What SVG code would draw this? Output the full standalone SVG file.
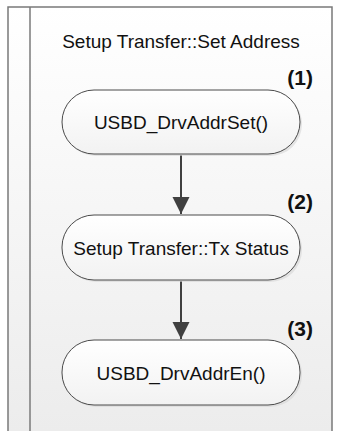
<svg xmlns="http://www.w3.org/2000/svg" width="345" height="431" viewBox="0 0 345 431">
<style>
.frame{stroke:#7a7a7a;stroke-width:1.5;fill:none}
.node rect{fill:url(#nodeGrad);stroke:#4a4a4a;stroke-width:1}
.node rect.shadow{fill:#d6d6d6;stroke:none;opacity:0.6}
.t{font-family:"Liberation Sans",Arial,sans-serif;font-size:19px;fill:#111;text-anchor:middle}
.lbl{font-family:"Liberation Sans",Arial,sans-serif;font-size:21px;font-weight:bold;fill:#111;text-anchor:end}
.conn{stroke:#404040;stroke-width:2;fill:none}
</style>
<defs>
<linearGradient id="bg" x1="0" y1="0" x2="0" y2="1">
<stop offset="0" stop-color="#ffffff"/>
<stop offset="1" stop-color="#ececec"/>
</linearGradient>
<linearGradient id="nodeGrad" x1="0" y1="0" x2="0" y2="1">
<stop offset="0" stop-color="#ffffff"/>
<stop offset="1" stop-color="#f2f2f2"/>
</linearGradient>
<marker id="arr" markerWidth="18" markerHeight="18" refX="17" refY="8.5" orient="auto" markerUnits="userSpaceOnUse">
<path d="M0,0 L17,8.5 L0,17 Z" fill="#404040"/>
</marker>
</defs>
<rect x="0" y="0" width="345" height="431" fill="#ffffff"/>
<rect x="8" y="7" width="324" height="424" fill="url(#bg)"/>
<g id="frame">
<path class="frame" d="M8,431 V7 H332 V431"/>
<path class="frame" d="M30,7 V431"/>
</g>
<text class="t" x="181" y="48">Setup Transfer::Set Address</text>
<g id="connectors">
<path class="conn" d="M181,155 V214" marker-end="url(#arr)"/>
<path class="conn" d="M181,281 V339" marker-end="url(#arr)"/>
</g>
<g id="node1" class="node">
<rect class="shadow" x="64" y="92" width="238" height="64" rx="32"/>
<rect x="62" y="90" width="238" height="64" rx="32"/>
<text class="t" x="181" y="129">USBD_DrvAddrSet()</text>
<text class="lbl" x="313" y="85">(1)</text>
</g>
<g id="node2" class="node">
<rect class="shadow" x="64" y="217" width="238" height="65" rx="32"/>
<rect x="62" y="215" width="238" height="65" rx="32"/>
<text class="t" x="181" y="254.5">Setup Transfer::Tx Status</text>
<text class="lbl" x="313" y="209">(2)</text>
</g>
<g id="node3" class="node">
<rect class="shadow" x="64" y="342" width="238" height="65" rx="32"/>
<rect x="62" y="340" width="238" height="65" rx="32"/>
<text class="t" x="181" y="379.5">USBD_DrvAddrEn()</text>
<text class="lbl" x="313" y="336">(3)</text>
</g>
</svg>
